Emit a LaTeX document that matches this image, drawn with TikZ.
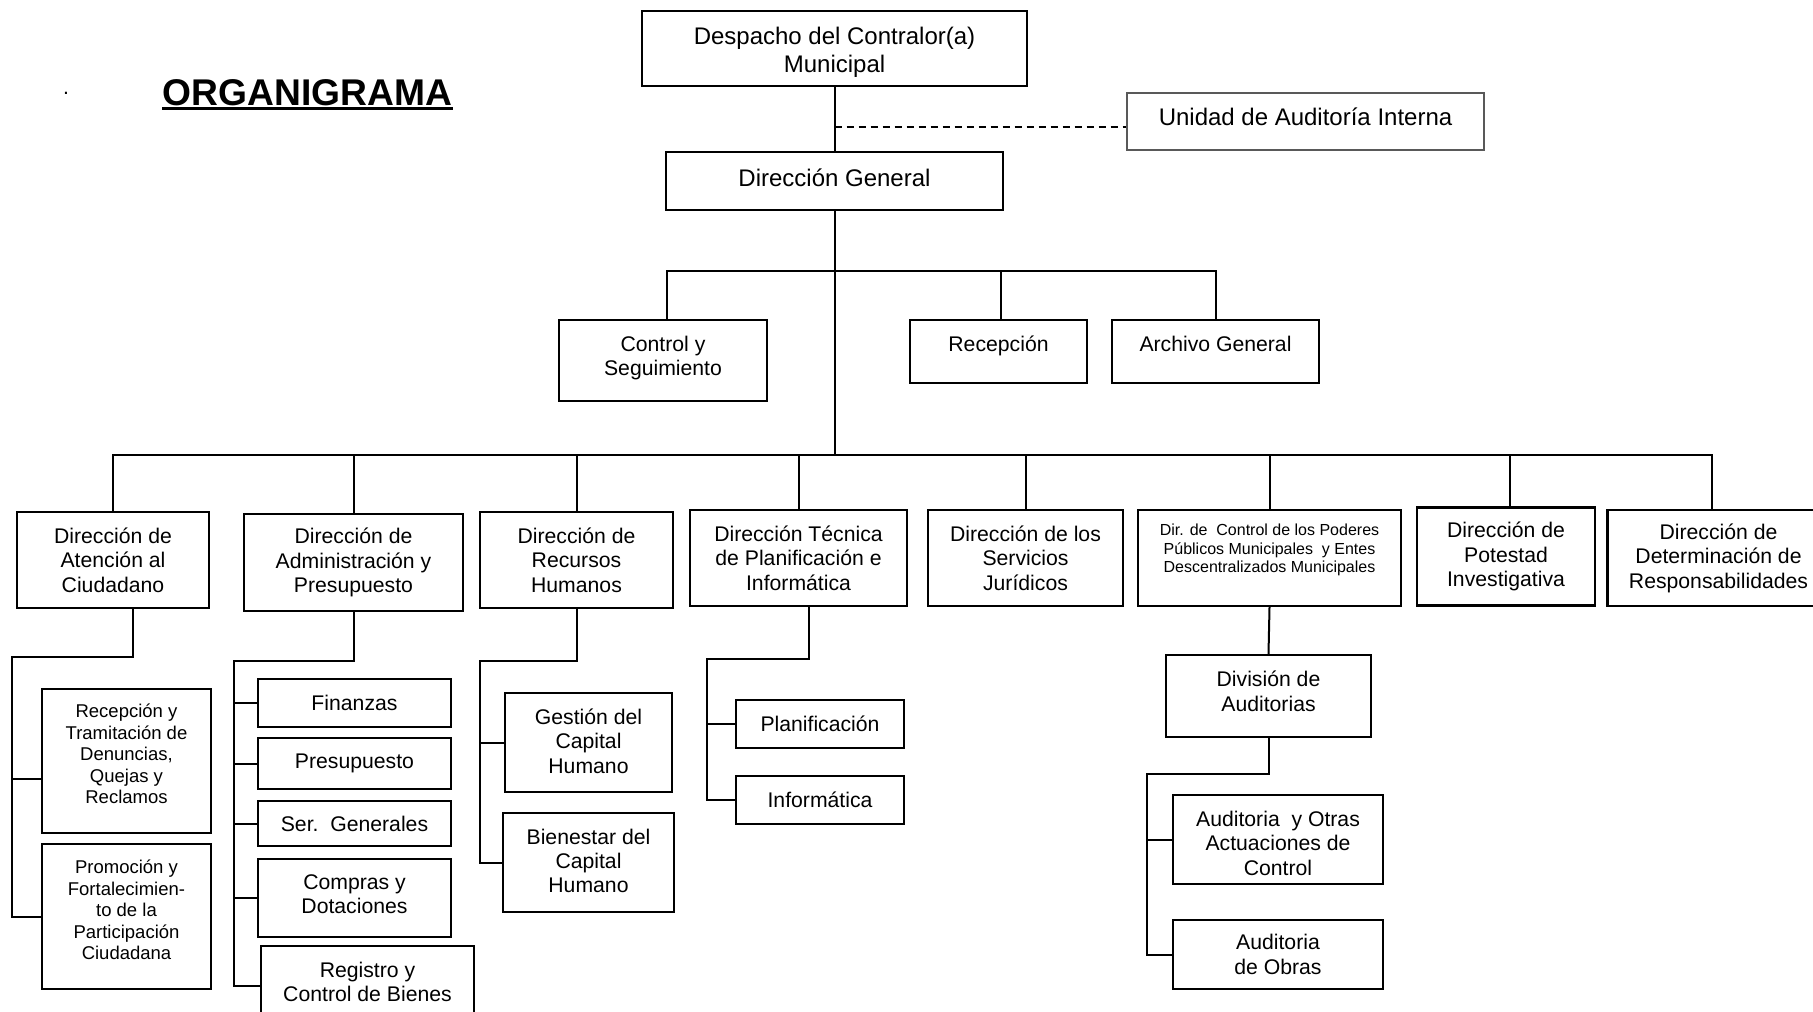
\documentclass[tikz,border=0pt]{standalone}
\usepackage{fontspec}
\setmainfont{Liberation Sans}
\newcommand{\ftop}{\fontsize{12}{14}\selectfont}
\newcommand{\frow}{\fontsize{10.6}{12.2}\selectfont}
\newcommand{\fsub}{\fontsize{9.25}{10.75}\selectfont}
\newcommand{\fdcp}{\fontsize{8}{9.2}\selectfont}
\newcommand{\lift}[1]{\rule[-#1]{0pt}{#1}}
\newcommand{\drop}[1]{\rule{0pt}{#1}}

\tikzset{
  caja/.style={draw, line width=1.2pt, align=center, inner sep=0pt, font=\frow},
  wh/.style 2 args={minimum width=#1*0.5pt, minimum height=#2*0.5pt},
  linea/.style={line width=1pt},
}

\begin{document}
\begin{tikzpicture}[x=0.5pt, y=-0.5pt]
\useasboundingbox (0,0) rectangle (1813,1011);
\clip (0,0) rectangle (1813,1011);

% title
\node[font=\fontsize{18.6}{20}\selectfont\bfseries, inner sep=0pt, anchor=base] (titulo) at (307.5,105) {ORGANIGRAMA};
\draw[line width=1.5pt] ([yshift=-2pt]titulo.base west) -- ([yshift=-2pt]titulo.base east);
\node[font=\frow, inner sep=0pt, anchor=base] (punto) at (66,95) {.};

% top
\node[caja, wh={385}{75}, font=\ftop] (desp) at (834.5,48.5) {\drop{12.8pt}Despacho del Contralor(a)\\Municipal};
\node[caja, wh={357}{57}, font=\ftop, draw=black!65, line width=0.8pt] (unidad) at (1305.5,121.5) {Unidad de Auditoría Interna\lift{4.5pt}};
\node[caja, wh={337}{58}, font=\ftop] (dg) at (834.5,181) {Dirección General\lift{3pt}};

\node[caja, wh={208}{81}] (cys) at (663,360.5) {Control y\\Seguimiento\lift{4.4pt}};
\node[caja, wh={177}{63}] (rec) at (998.5,351.5) {Recepción\lift{7.4pt}};
\node[caja, wh={207}{63}] (arch) at (1215.5,351.5) {Archivo General\lift{7.5pt}};

% direcciones
\node[caja, wh={192}{96}] (aten) at (113,560) {Dirección de\\Atención al\\Ciudadano};
\node[caja, wh={219}{97}] (adm) at (353.5,562.5) {Dirección de\\Administración y\\Presupuesto};
\node[caja, wh={193}{96}] (rh) at (576.5,560) {Dirección de\\Recursos\\Humanos};
\node[caja, wh={217}{96}] (tec) at (798.5,558) {Dirección Técnica\\de Planificación e\\Informática};
\node[caja, wh={195}{96}] (jur) at (1025.5,558) {Dirección de los\\Servicios\\Jurídicos};
\node[caja, wh={263}{96}, font=\fdcp] (dcp) at (1269.5,558) {Dir. de\ \ Control de los Poderes\\Públicos Municipales\ \ y Entes\\Descentralizados Municipales\lift{9.7pt}};
\node[caja, wh={178}{98}] (pot) at (1506,556.5) {Dirección de\\Potestad\\Investigativa};
\node[caja, wh={222}{96}] (det) at (1718.5,558) {Dirección de\\Determinación de\\Responsabilidades};

% unidades
\node[caja, wh={169}{144}, font=\fsub] (rtd) at (126.5,761) {Recepción y\\Tramitación de\\Denuncias,\\Quejas y\\Reclamos\lift{7pt}};
\node[caja, wh={169}{145}, font=\fsub] (pfp) at (126.5,916.5) {Promoción y\\Fortalecimien-\\to de la\\Participación\\Ciudadana\lift{6.5pt}};

\node[caja, wh={193}{48}] (fin) at (354.5,703) {Finanzas};
\node[caja, wh={193}{51}] (pre) at (354.5,763.5) {Presupuesto};
\node[caja, wh={193}{45}] (ser) at (354.5,823.5) {Ser.\ \ Generales};
\node[caja, wh={193}{78}] (com) at (354.5,898) {Compras y\\Dotaciones\lift{4pt}};
\node[caja, wh={213}{79}] (reg) at (367.5,985.5) {Registro y\\Control de Bienes\lift{3.5pt}};

\node[caja, wh={167}{99}] (gch) at (588.5,742.5) {Gestión del\\Capital\\Humano\lift{1.7pt}};
\node[caja, wh={171}{99}] (bch) at (588.5,862.5) {Bienestar del\\Capital\\Humano\lift{1.7pt}};

\node[caja, wh={168}{48}] (pla) at (820,724) {Planificación};
\node[caja, wh={168}{48}] (inf) at (820,800) {Informática};

\node[caja, wh={205}{82}] (div) at (1268.5,696) {División de\\Auditorias\lift{5pt}};
\node[caja, wh={210}{89}] (aoc) at (1278,839.5) {\drop{11.2pt}Auditoria\ \ y Otras\\Actuaciones de\\Control};
\node[caja, wh={210}{69}] (aob) at (1278,954.5) {Auditoria\\de Obras};

% buses
\coordinate (dsh) at (834.5,127);
\coordinate (bs) at (834.5,271);
\coordinate (bi) at (834.5,455);
\coordinate (s1) at (12,657);
\coordinate (s2) at (234,661);
\coordinate (s3) at (480,661);
\coordinate (s4) at (707,659);
\coordinate (s5) at (1147,774);

\draw[linea] (desp.south) -- (dg.north);
\draw[line width=0.8pt, dash pattern=on 3.5pt off 2.5pt] (dsh) -- (dsh -| unidad.west);
\draw[linea] (dg.south) -- (bi);

\draw[linea] ([xshift=2pt]cys.north) |- (arch.north |- bs) -- (arch.north);
\draw[linea] ([xshift=1.25pt]rec.north) -- ([xshift=1.25pt]rec.north |- bs);

\draw[linea] (aten.north) |- ([xshift=-3.25pt]det.north |- bi) -- ([xshift=-3.25pt]det.north);
\draw[linea] (adm.north) -- (adm.north |- bi);
\draw[linea] (rh.north) -- (rh.north |- bi);
\draw[linea] (tec.north) -- (tec.north |- bi);
\draw[linea] (jur.north) -- (jur.north |- bi);
\draw[linea] (dcp.north) -- (dcp.north |- bi);
\draw[linea] ([xshift=2pt]pot.north) -- ([xshift=2pt]pot.north |- bi);

% subordinados
\draw[linea] ([xshift=10pt]aten.south) |- (s1) |- (pfp.west);
\draw[linea] (s1 |- 0,779) -- (rtd.west |- 0,779);

\draw[linea] (adm.south) |- (s2) |- (reg.west);
\draw[linea] (s2 |- fin.west) -- (fin.west);
\draw[linea] (s2 |- pre.west) -- (pre.west);
\draw[linea] (s2 |- ser.west) -- (ser.west);
\draw[linea] (s2 |- com.west) -- (com.west);

\draw[linea] (rh.south) |- (s3) |- (bch.west);
\draw[linea] (s3 |- gch.west) -- (gch.west);

\draw[linea] ([xshift=5pt]tec.south) |- (s4) |- (inf.west);
\draw[linea] (s4 |- pla.west) -- (pla.west);

\draw[linea] (dcp.south) -- (div.north);
\draw[linea] (div.south) |- (s5) |- (aob.west);
\draw[linea] (s5 |- aoc.west) -- (aoc.west);
\end{tikzpicture}
\end{document}
